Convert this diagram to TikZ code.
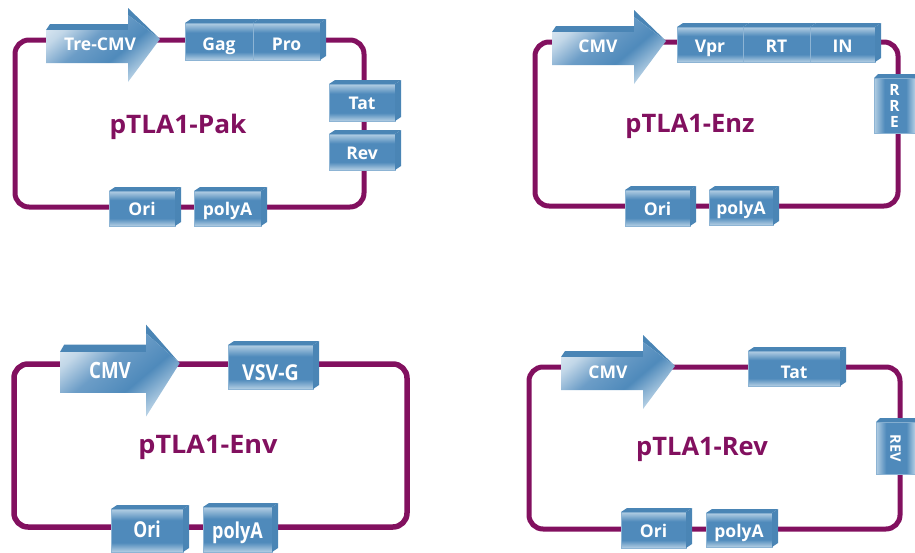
\documentclass[tikz,border=0pt]{standalone}
\usepackage{fontspec}
\setmainfont{Open Sans}

\definecolor{ringpurple}{HTML}{82105F}
\definecolor{geneblue}{HTML}{4F8ABB}
\definecolor{geneside}{HTML}{4A85B5}
\definecolor{genelight}{HTML}{B4CFE4}
\definecolor{geneedge}{HTML}{8DB4D4}
\definecolor{promotermid}{HTML}{6C9DC7}
\definecolor{promoterpale}{HTML}{C2D7E8}
\definecolor{promoterwhite}{HTML}{E8F0F7}

\pgfdeclareverticalshading{genefront}{100bp}{
  color(0bp)=(genelight); color(25bp)=(genelight); color(36bp)=(geneblue);
  color(62bp)=(geneblue); color(75bp)=(genelight); color(100bp)=(genelight)}
\pgfdeclareverticalshading{promoterfront}{100bp}{
  color(0bp)=(genelight); color(27bp)=(genelight); color(42bp)=(geneblue);
  color(58bp)=(promotermid); color(72bp)=(promoterpale); color(85bp)=(promoterwhite); color(100bp)=(promoterwhite)}

\begin{document}
\begin{tikzpicture}[
  x=1pt, y=-1pt,
  every node/.style={font=\bfseries},
  ringbox/.style={draw=ringpurple, line width=5pt, rounded corners=14pt, inner sep=0pt, outer sep=0pt},
  genebox/.style={anchor=north west, shade, shading=genefront, draw=geneedge, line width=0.5pt, text=white, inner sep=0pt, outer sep=0pt, text height=14pt, text depth=0pt, font=\bfseries\fontsize{17.5}{15}\selectfont},
  sidebox/.style={genebox, shading angle=90, text height=, text depth=},
  promotername/.style={text=white, font=\bfseries\fontsize{17.5}{15}\selectfont},
  plasmidname/.style={text=ringpurple, font=\bfseries\fontsize{25.5}{24}\selectfont},
  promoter/.pic={
    \fill[geneside] (0,0) -- (4,-6) -- (82,-6) -- (82,-22) -- (114,9) -- (82,-15) -- (82,0) -- cycle;
    \shade[shading=promoterfront, shading angle=40] (0,0) -- (82,0) -- (82,-15) -- (114,9) -- (82,52) -- (82,33) -- (0,33) -- cycle;
  }
]
\useasboundingbox (0,0) rectangle (915,552);

% BACKBONES
\node[ringbox, minimum width=349, minimum height=167] (pakring) at (189.5,123.5) {};
\node[ringbox, minimum width=363, minimum height=164] (enzring) at (716.5,124) {};
\node[ringbox, minimum width=393, minimum height=163, line width=5.5pt] (envring) at (210.5,445.5) {};
\node[ringbox, minimum width=371, minimum height=162] (revring) at (714.5,448) {};

% pTLA1-Pak
\pic (pakcmv) at (46,30) {promoter};
\node[promotername] (pakcmvname) at (100,44) {Tre-CMV};
\node[genebox, minimum width=68, minimum height=37, text height=18pt] (pakgag) at (185,23) {Gag};
\node[genebox, minimum width=67, minimum height=37, text height=18pt] (pakpro) at (253,23) {Pro};
\node[genebox, minimum width=66, minimum height=37] (paktat) at (329,84) {Tat};
\node[genebox, minimum width=66, minimum height=36] (pakrev) at (329,134) {Rev};
\node[genebox, minimum width=66, minimum height=35] (pakori) at (109,191) {Ori};
\node[genebox, minimum width=67, minimum height=35] (pakpolya) at (194,191) {polyA};
\node[plasmidname] (pakname) at (178,127) {\scalebox{1.03}[1]{pTLA1-Pak}};

% pTLA1-Enz
\pic (enzcmv) at (552,32) {promoter};
\node[promotername] (enzcmvname) at (598,46) {CMV};
\node[genebox, minimum width=66, minimum height=35, text height=16pt] (enzvpr) at (677,27) {Vpr};
\node[genebox, minimum width=67, minimum height=35, text height=16pt] (enzrt) at (743,27) {RT};
\node[genebox, minimum width=65, minimum height=35, text height=16pt] (enzin) at (810,27) {IN};
\node[sidebox, minimum width=41, minimum height=55, align=center, font=\bfseries\fontsize{15.5}{16}\selectfont] (enzrre) at (874,78) {R\\R\\E};
\node[genebox, minimum width=65, minimum height=36] (enzori) at (625,190) {Ori};
\node[genebox, minimum width=64, minimum height=35] (enzpolya) at (709,190) {polyA};
\node[plasmidname] (enzname) at (690,126) {pTLA1-Enz};

% pTLA1-Env
\pic[xscale=1.05, yscale=1.24] (envcmv) at (60,352) {promoter};
\node[promotername] (envcmvname) at (110,370) {\scalebox{1.07}[1.28]{CMV}};
\node[genebox, minimum width=85, minimum height=44, text height=26pt] (envvsvg) at (228,345) {\scalebox{1.12}[1.25]{VSV-G}};
\node[genebox, minimum width=72, minimum height=43] (envori) at (111,509) {\scalebox{1}[1.25]{Ori}};
\node[genebox, minimum width=69, minimum height=45, text height=18pt] (envpolya) at (203,507) {\scalebox{1.03}[1.25]{polyA}};
\node[plasmidname] (envname) at (208,447) {\scalebox{1.06}[1]{pTLA1-Env}};

% pTLA1-Rev
\pic (revcmv) at (561,357) {promoter};
\node[promotername] (revcmvname) at (608,372) {CMV};
\node[genebox, minimum width=92, minimum height=35, text height=20pt] (revtat) at (748,351) {Tat};
\node[sidebox, minimum width=39, minimum height=52, font=\bfseries\fontsize{14.5}{14}\selectfont] (revrev) at (876,422) {\rotatebox{-90}{REV}};
\node[genebox, minimum width=65, minimum height=36] (revori) at (621,512) {Ori};
\node[genebox, minimum width=66, minimum height=34] (revpolya) at (706,513) {polyA};
\node[plasmidname] (revname) at (702,449) {pTLA1-Rev};

% TOP AND RIGHT FACES
\foreach \g in {pakgag,pakpro,paktat,pakrev,pakori,pakpolya,enzvpr,enzrt,enzin,enzori,enzpolya,envvsvg,envori,envpolya,revtat,revori,revpolya}
  \fill[geneside] (\g.north west) -- ++(6,-4) -- ([shift={(6,-4)}]\g.north east) -- (\g.north east) -- cycle;
\foreach \g in {pakpro,paktat,pakrev,pakori,pakpolya,enzin,enzori,enzpolya,envvsvg,envori,envpolya,revtat,revori,revpolya}
  \fill[geneside] (\g.north east) -- ++(6,-4) -- ([shift={(6,-4)}]\g.south east) -- (\g.south east) -- cycle;
\foreach \g in {enzrre,revrev}
  \fill[geneside] (\g.north west) -- ++(4,-4) -- ([shift={(0,-4)}]\g.north east) -- (\g.north east) -- cycle;

\end{tikzpicture}
\end{document}
